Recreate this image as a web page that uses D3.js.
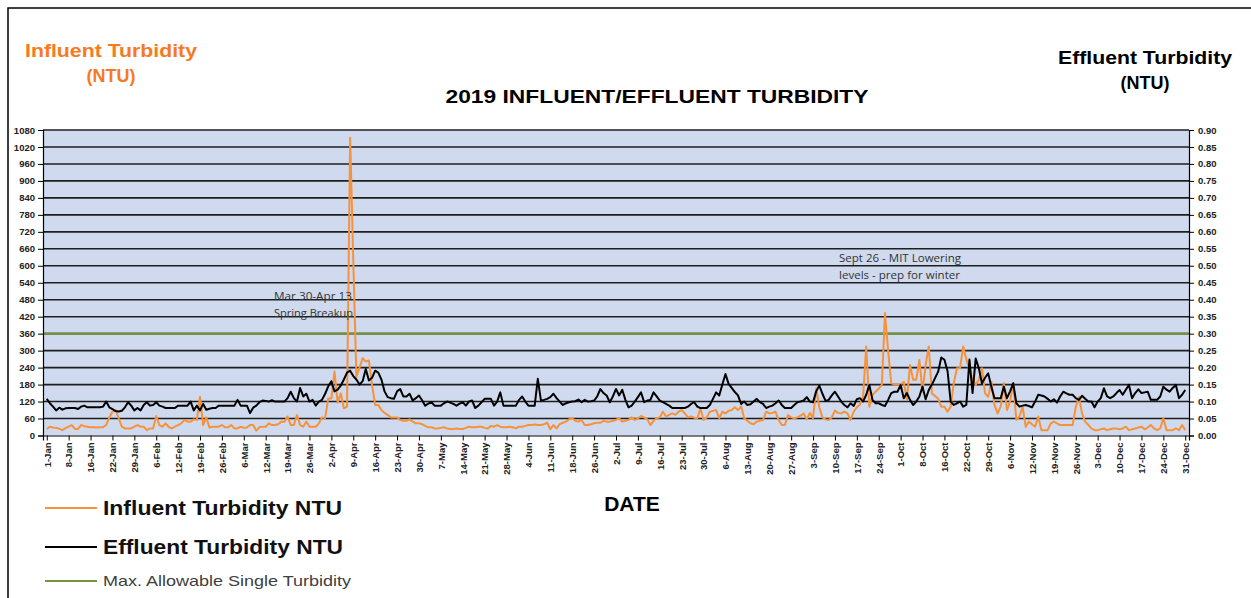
<!DOCTYPE html>
<html>
<head>
<meta charset="utf-8">
<script src="https://cdnjs.cloudflare.com/ajax/libs/d3/7.8.5/d3.min.js"></script>
<style>
  html, body { margin: 0; padding: 0; background: #fff; }
  svg { display: block; }
  text { font-family: "Liberation Sans", Arial, sans-serif; }
  .axis text { font-size: 9.5px; font-weight: bold; fill: #222; }
  .axis path, .axis line { stroke: #000; }
  .note { font-family: "Open Sans", sans-serif; font-size: 10px; fill: #333; }
</style>
</head>
<body>
<svg id="chart" width="1251" height="598"></svg>
<script>
// daily influent turbidity (NTU), one array per month
var infJan = [23,31,28,27,24,19,26,31,37,23,23,37,33,31,29,29,28,29,29,37,64,84,90,61,31,25,25,25,31,37,31];
var infFeb = [31,19,25,25,69,37,31,43,30,25,31,37,43,55,49,49,57,55,137,37,64,28,31,31,31,37,29,29];
var infMar = [37,25,25,31,27,28,37,37,17,29,31,31,43,37,37,40,49,49,67,37,37,72,37,31,49,31,31,31,43,64,61];
var infApr = [131,131,226,116,149,96,102,1053,620,208,240,273,261,265,179,108,108,90,80,73,64,64,64,55,52,52,57,49,43,43];
var infMay = [40,34,29,29,25,25,27,29,25,23,23,25,23,23,27,31,29,29,31,31,27,25,34,31,37,31,29,29,31,29,25];
var infJun = [31,31,34,37,37,39,37,37,40,45,22,37,25,40,45,49,57,61,52,49,55,37,37,40,43,45,45,52,49,49];
var infJul = [52,55,61,49,52,55,64,55,60,69,64,57,37,52,61,64,84,67,73,78,73,84,90,78,64,67,63,61,96,55,64];
var infAug = [84,87,90,61,84,78,87,90,100,90,103,61,52,43,40,49,52,55,84,78,80,84,55,37,37,72,64,61,64,70,78];
var infSep = [57,80,61,167,100,64,57,55,64,88,80,78,84,78,55,84,100,110,137,315,102,143,155,165,180,433,300,185,180,180];
var infOct = [179,190,126,249,197,197,267,155,250,315,149,140,130,102,102,84,102,185,238,238,315,270,232,200,179,197,238,149,137,190,108];
var infNov = [78,102,185,90,120,185,55,67,102,31,49,40,31,67,19,19,19,43,49,43,37,37,37,37,37,100,137,78,49,37];
var infDec = [25,19,19,22,25,19,22,25,25,22,25,31,19,22,25,28,31,22,28,37,25,19,25,61,19,19,19,25,19,37,19];

// daily effluent turbidity (NTU), secondary axis
var effJan = [0.108,0.095,0.085,0.074,0.082,0.076,0.080,0.081,0.081,0.081,0.078,0.085,0.088,0.083,0.083,0.083,0.083,0.083,0.085,0.100,0.083,0.078,0.072,0.071,0.073,0.083,0.098,0.088,0.074,0.081,0.074];
var effFeb = [0.090,0.098,0.088,0.090,0.098,0.088,0.085,0.081,0.081,0.081,0.081,0.088,0.088,0.088,0.088,0.100,0.074,0.088,0.074,0.093,0.076,0.079,0.081,0.081,0.088,0.088,0.088,0.088];
var effMar = [0.088,0.088,0.105,0.088,0.088,0.088,0.066,0.082,0.088,0.098,0.103,0.102,0.100,0.104,0.100,0.100,0.100,0.100,0.110,0.129,0.110,0.100,0.140,0.115,0.123,0.100,0.105,0.088,0.100,0.105,0.123];
var effApr = [0.145,0.160,0.130,0.135,0.147,0.165,0.185,0.191,0.175,0.165,0.150,0.160,0.196,0.162,0.170,0.191,0.185,0.165,0.130,0.113,0.110,0.108,0.130,0.137,0.115,0.115,0.123,0.103,0.110,0.118];
var effMay = [0.104,0.088,0.094,0.098,0.088,0.088,0.088,0.095,0.100,0.097,0.093,0.088,0.094,0.098,0.088,0.100,0.103,0.081,0.088,0.098,0.108,0.108,0.108,0.088,0.100,0.127,0.088,0.088,0.088,0.088,0.088];
var effJun = [0.105,0.115,0.100,0.088,0.088,0.088,0.167,0.103,0.105,0.108,0.113,0.123,0.110,0.100,0.090,0.095,0.098,0.100,0.101,0.106,0.098,0.105,0.100,0.101,0.103,0.115,0.137,0.125,0.118,0.098];
var effJul = [0.115,0.137,0.118,0.135,0.105,0.083,0.088,0.100,0.113,0.127,0.098,0.103,0.105,0.127,0.115,0.103,0.098,0.093,0.088,0.081,0.081,0.081,0.081,0.081,0.085,0.093,0.098,0.085,0.081,0.081,0.081];
var effAug = [0.090,0.108,0.127,0.118,0.150,0.181,0.152,0.140,0.128,0.118,0.093,0.100,0.090,0.092,0.100,0.108,0.098,0.093,0.081,0.085,0.088,0.095,0.103,0.090,0.081,0.081,0.081,0.090,0.098,0.100,0.103];
var effSep = [0.113,0.100,0.098,0.130,0.147,0.123,0.102,0.105,0.118,0.129,0.115,0.100,0.090,0.083,0.095,0.087,0.107,0.110,0.100,0.120,0.149,0.105,0.095,0.095,0.090,0.087,0.105,0.125,0.129,0.129];
var effOct = [0.149,0.110,0.125,0.105,0.090,0.100,0.115,0.144,0.107,0.134,0.150,0.169,0.188,0.230,0.223,0.190,0.100,0.090,0.095,0.100,0.085,0.090,0.224,0.125,0.227,0.198,0.154,0.170,0.183,0.144,0.110];
var effNov = [0.110,0.110,0.144,0.110,0.130,0.154,0.095,0.085,0.088,0.090,0.087,0.083,0.100,0.120,0.118,0.115,0.108,0.100,0.107,0.097,0.115,0.129,0.124,0.120,0.120,0.110,0.105,0.117,0.108,0.100];
var effDec = [0.100,0.083,0.100,0.110,0.139,0.115,0.110,0.115,0.125,0.134,0.120,0.135,0.149,0.110,0.125,0.136,0.125,0.127,0.129,0.105,0.105,0.105,0.115,0.144,0.135,0.129,0.140,0.149,0.110,0.120,0.134];

var maxAllowable = 360;

// every 7th category label on the date axis
var dateLabels = ["1-Jan","8-Jan","16-Jan","22-Jan","29-Jan","6-Feb","12-Feb","19-Feb","26-Feb","6-Mar","12-Mar","19-Mar","26-Mar",
  "2-Apr","9-Apr","16-Apr","23-Apr","30-Apr","7-May","14-May","21-May","28-May","4-Jun","11-Jun","18-Jun","26-Jun",
  "2-Jul","9-Jul","16-Jul","23-Jul","30-Jul","6-Aug","13-Aug","20-Aug","27-Aug","3-Sep","10-Sep","17-Sep","24-Sep",
  "1-Oct","8-Oct","16-Oct","22-Oct","29-Oct","6-Nov","12-Nov","19-Nov","26-Nov","3-Dec","10-Dec","17-Dec","24-Dec","31-Dec"];
var leftTicks = d3.range(0, 1081, 60);
var rightTicks = d3.range(0, 19).map(function (i) { return i * 0.05; });

var influent = [].concat(infJan, infFeb, infMar, infApr, infMay, infJun, infJul, infAug, infSep, infOct, infNov, infDec);
var effluent = [].concat(effJan, effFeb, effMar, effApr, effMay, effJun, effJul, effAug, effSep, effOct, effNov, effDec);

var orange = "#f7923a", orangeText = "#f77a1e", green = "#77933c";

var svg = d3.select("#chart");
var L = 43, R = 1189, T = 130, B = 435.5;

var x = d3.scaleLinear().domain([-1.2, influent.length - 1 + 1.2]).range([L, R]);
var yL = d3.scaleLinear().domain([0, 1080]).range([B, T]);
var yR = d3.scaleLinear().domain([0, 0.9]).range([B, T]);

// outer frame
svg.append("path").attr("d", "M8,598V8H1251").attr("fill", "none").attr("stroke", "#000").attr("stroke-width", 1.5);

// plot background
svg.append("rect").attr("x", L).attr("y", T).attr("width", R - L).attr("height", B - T).attr("fill", "#cfdaef");

// horizontal grid
svg.append("g").selectAll("line").data(leftTicks.slice(1)).join("line")
    .attr("x1", L).attr("x2", R)
    .attr("y1", function (d) { return yL(d); }).attr("y2", function (d) { return yL(d); })
    .attr("stroke", "#1e1e1e").attr("stroke-width", 1.6);

// max allowable line
svg.append("line").attr("x1", L).attr("x2", R).attr("y1", yL(maxAllowable)).attr("y2", yL(maxAllowable))
    .attr("stroke", green).attr("stroke-width", 2.2);

var lineInf = d3.line().x(function (d, i) { return x(i); }).y(function (d) { return yL(d); });
var lineEff = d3.line().x(function (d, i) { return x(i); }).y(function (d) { return yR(d); });

svg.append("path").datum(influent).attr("d", lineInf)
    .attr("fill", "none").attr("stroke", orange).attr("stroke-width", 2).attr("stroke-linejoin", "round");
svg.append("path").datum(effluent).attr("d", lineEff)
    .attr("fill", "none").attr("stroke", "#000").attr("stroke-width", 2).attr("stroke-linejoin", "round");

// axes
var gl = svg.append("g").attr("class", "axis").attr("transform", "translate(" + L + ",0)")
    .call(d3.axisLeft(yL).tickValues(leftTicks).tickSize(5).tickPadding(3).tickFormat(d3.format("d")));
var gr = svg.append("g").attr("class", "axis").attr("transform", "translate(" + R + ",0)")
    .call(d3.axisRight(yR).tickValues(rightTicks).tickSize(5).tickPadding(4).tickFormat(d3.format(".2f")));
var gx = svg.append("g").attr("class", "axis").attr("transform", "translate(0," + B + ")")
    .call(d3.axisBottom(x).tickValues(d3.range(0, influent.length, 7)).tickSize(5)
      .tickFormat(function (d, i) { return dateLabels[i]; }));
gx.selectAll("text").attr("transform", "rotate(-90)").attr("text-anchor", "end")
    .attr("x", -7).attr("y", 0).attr("dy", "0.35em");
[gl, gr, gx].forEach(function (g) { g.select(".domain").attr("stroke-width", 1.2); });

// titles
svg.append("text").attr("x", 657).attr("y", 103).attr("text-anchor", "middle")
    .attr("font-size", 18).attr("font-weight", "bold").attr("textLength", 423).attr("lengthAdjust", "spacingAndGlyphs")
    .text("2019 INFLUENT/EFFLUENT TURBIDITY");

svg.append("text").attr("x", 111).attr("y", 57).attr("text-anchor", "middle").attr("fill", orangeText)
    .attr("font-size", 18).attr("font-weight", "bold").attr("textLength", 172).attr("lengthAdjust", "spacingAndGlyphs")
    .text("Influent Turbidity");
svg.append("text").attr("x", 111).attr("y", 82).attr("text-anchor", "middle").attr("fill", orangeText)
    .attr("font-size", 18).attr("font-weight", "bold").text("(NTU)");

svg.append("text").attr("x", 1145).attr("y", 64).attr("text-anchor", "middle")
    .attr("font-size", 18).attr("font-weight", "bold").attr("textLength", 174).attr("lengthAdjust", "spacingAndGlyphs")
    .text("Effluent Turbidity");
svg.append("text").attr("x", 1145).attr("y", 89).attr("text-anchor", "middle")
    .attr("font-size", 18).attr("font-weight", "bold").text("(NTU)");

svg.append("text").attr("x", 632).attr("y", 511).attr("text-anchor", "middle")
    .attr("font-size", 21).attr("font-weight", "bold").text("DATE");

// notes
svg.append("text").attr("class", "note").attr("x", 274).attr("y", 300)
    .attr("textLength", 78).attr("lengthAdjust", "spacingAndGlyphs").text("Mar 30-Apr 13");
svg.append("text").attr("class", "note").attr("x", 274).attr("y", 317)
    .attr("textLength", 79).attr("lengthAdjust", "spacingAndGlyphs").text("Spring  Breakup");
svg.append("text").attr("class", "note").attr("x", 839).attr("y", 262)
    .attr("textLength", 122).attr("lengthAdjust", "spacingAndGlyphs").text("Sept 26 - MIT Lowering");
svg.append("text").attr("class", "note").attr("x", 839).attr("y", 279)
    .attr("textLength", 121).attr("lengthAdjust", "spacingAndGlyphs").text("levels - prep for winter");

// legend
var legend = [
  { label: "Influent Turbidity NTU", color: orange, y: 508, size: 20, weight: "bold", fill: "#111", w: 239 },
  { label: "Effluent Turbidity NTU", color: "#000", y: 547, size: 20, weight: "bold", fill: "#111", w: 240 },
  { label: "Max. Allowable Single Turbidity", color: green, y: 581, size: 15, weight: "normal", fill: "#404040", w: 248 }
];
var lg = svg.append("g").selectAll("g").data(legend).join("g");
lg.append("line").attr("x1", 45).attr("x2", 97)
    .attr("y1", function (d) { return d.y; }).attr("y2", function (d) { return d.y; })
    .attr("stroke", function (d) { return d.color; }).attr("stroke-width", 2);
lg.append("text").attr("x", 103).attr("y", function (d) { return d.y; }).attr("dy", "0.36em")
    .attr("font-size", function (d) { return d.size; }).attr("font-weight", function (d) { return d.weight; })
    .attr("fill", function (d) { return d.fill; })
    .attr("textLength", function (d) { return d.w; }).attr("lengthAdjust", "spacingAndGlyphs")
    .text(function (d) { return d.label; });
</script>
</body>
</html>
